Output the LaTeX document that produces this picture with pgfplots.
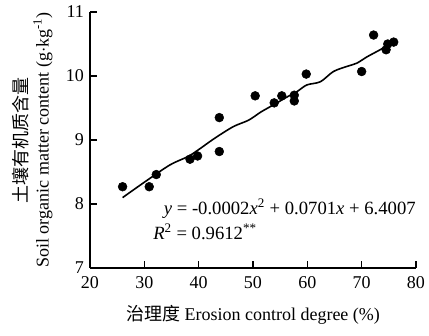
\documentclass[border=0pt]{standalone}
\usepackage{pgfplots}
\pgfplotsset{compat=1.18}
\usepackage{fontspec}
\setmainfont{Liberation Serif}
\newfontfamily\cjk{Noto Sans CJK SC}
\begin{document}
\begin{tikzpicture}
\useasboundingbox (-67.5pt,-51pt) rectangle (254.25pt,201pt);
\begin{axis}[
  scale only axis,
  width=244.5pt, height=192pt,
  xmin=20, xmax=80, ymin=7, ymax=11,
  axis x line*=bottom, axis y line*=left,
  axis line style={line width=0.9pt, -},
  xtick={20,30,...,80}, ytick={7,8,...,11},
  tick style={line width=0.9pt, black},
  tick align=inside,
  major tick length=5.5pt,
  minor tick num=0,
  /pgf/number format/assume math mode=true,
  tick label style={font=\fontsize{13.5}{16}\selectfont},
  xticklabel style={yshift=-3pt},
  yticklabel style={xshift=-1pt},
  label style={font=\fontsize{13.5}{16}\selectfont},
  xlabel={{\cjk 治理度} Erosion control degree (\%)},
  xlabel style={at={(axis description cs:0.5,0)}, anchor=base, yshift=-39pt, inner sep=0pt},
  ylabel={{\cjk 土壤有机质含量}\\[0pt]Soil organic matter content (g$\cdot$kg\textsuperscript{-1})},
  ylabel style={at={(axis description cs:0,0.5)}, anchor=south, yshift=28pt, inner sep=0pt, align=center},
  clip=false,
]
\addplot[only marks, mark=*, mark size=3.3pt, black] coordinates {
(26.0,8.27) (30.9,8.27) (32.2,8.46) (38.4,8.70) (39.8,8.75)
(43.8,9.35) (43.8,8.82) (50.4,9.69) (53.9,9.58) (55.3,9.69)
(57.6,9.70) (57.6,9.61) (59.8,10.03) (70.0,10.07) (72.2,10.64)
(74.5,10.41) (74.8,10.50) (75.9,10.53)
};
\addplot[black, line width=1.2pt, smooth] coordinates {
(26.0,8.10) (30.0,8.34) (34.7,8.61) (38.0,8.74) (40.0,8.85)
(43.0,9.03) (46.4,9.21) (49.2,9.31) (51.5,9.44) (53.8,9.55)
(56.0,9.66) (58.0,9.75) (59.9,9.86) (62.4,9.91) (64.8,10.07)
(67.3,10.15) (69.1,10.20) (71.0,10.30) (73.4,10.41) (74.6,10.47)
};
\node[anchor=base east, inner sep=0pt, font=\fontsize{14}{16}\selectfont] at (axis cs:80,7.83)
  {\textit{y} = -0.0002\textit{x}\textsuperscript{2} + 0.0701\textit{x} + 6.4007};
\node[anchor=base west, inner sep=0pt, font=\fontsize{14}{16}\selectfont] at (axis cs:31.6,7.44)
  {\textit{R}\textsuperscript{2} = 0.9612\textsuperscript{**}};
\end{axis}
\end{tikzpicture}
\end{document}
